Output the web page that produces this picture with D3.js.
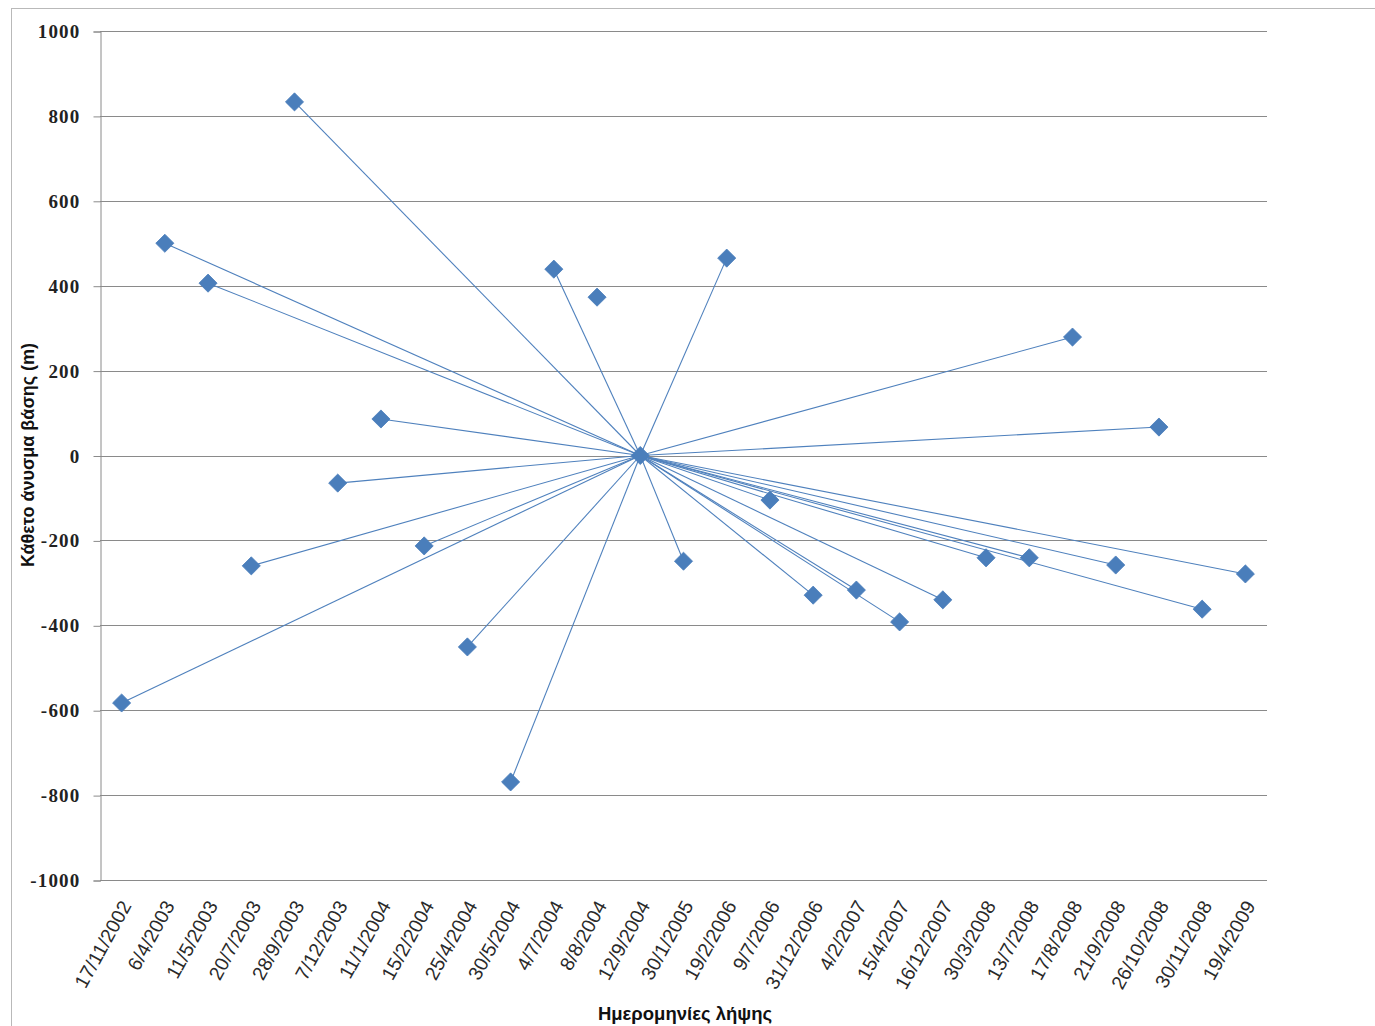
<!DOCTYPE html>
<html>
<head>
<meta charset="utf-8">
<script src="https://cdn.jsdelivr.net/npm/d3@7"></script>
<style>
  html, body { margin: 0; padding: 0; background: #fff; }
  svg { display: block; }
</style>
</head>
<body>
<svg id="chart" width="1375" height="1026"></svg>
<script>
// Acquisition dates (categories) and perpendicular baseline values (m)
const dates = [
  "17/11/2002", "6/4/2003", "11/5/2003", "20/7/2003", "28/9/2003", "7/12/2003",
  "11/1/2004", "15/2/2004", "25/4/2004", "30/5/2004", "4/7/2004", "8/8/2004",
  "12/9/2004", "30/1/2005", "19/2/2006", "9/7/2006", "31/12/2006", "4/2/2007",
  "15/4/2007", "16/12/2007", "30/3/2008", "13/7/2008", "17/8/2008", "21/9/2008",
  "26/10/2008", "30/11/2008", "19/4/2009"
];
const baselines = [
  -583, 500, 406, -260, 833, -65,
  86, -213, -451, -769, 439, 373,
  0, -249, 465, -105, -329, -317,
  -392, -340, -241, -241, 279, -258,
  67, -362, -279
];
// Master acquisition and the slave dates linked to it
const masterDate = "12/9/2004";
const unlinked = ["8/8/2004"];
const yTicks = [1000, 800, 600, 400, 200, 0, -200, -400, -600, -800, -1000];
const yTitle = "Κάθετο άνυσμα βάσης (m)";
const xTitle = "Ημερομηνίες λήψης";

const svg = d3.select("#chart");

// outer chart frame
svg.append("rect")
  .attr("x", 11.5).attr("y", 8.5)
  .attr("width", 1400).attr("height", 1040)
  .attr("fill", "#fff").attr("stroke", "#b9b9b9").attr("stroke-width", 1);

const x = d3.scaleBand().domain(dates).range([100, 1267]).paddingInner(0).paddingOuter(0);
const y = d3.scaleLinear().domain([-1000, 1000]).range([880, 31]);
const cx = d => x(d) + x.bandwidth() / 2;

// horizontal gridlines
svg.append("g").selectAll("line")
  .data(yTicks)
  .join("line")
  .attr("x1", 100).attr("x2", 1267)
  .attr("y1", d => Math.round(y(d)) + 0.5).attr("y2", d => Math.round(y(d)) + 0.5)
  .attr("stroke", "#8a8a8a").attr("stroke-width", 1);

// value axis
const yAxis = d3.axisLeft(y).tickValues(yTicks).tickSize(7).tickPadding(13).tickFormat(d => String(d));
const gy = svg.append("g").attr("transform", "translate(100.5,0.5)").call(yAxis);
gy.select(".domain").attr("stroke", "#8a8a8a");
gy.selectAll(".tick line").attr("stroke", "#8a8a8a");
gy.selectAll(".tick text")
  .attr("fill", "#222")
  .style("font-family", "'Liberation Serif', 'DejaVu Serif', serif")
  .style("font-size", "19px")
  .style("font-weight", "bold")
  .style("letter-spacing", "1.2px");

// category labels, rotated
const gx = svg.append("g");
gx.selectAll("text")
  .data(dates)
  .join("text")
  .attr("transform", d => `translate(${cx(d) + 6},${903}) rotate(-61)`)
  .attr("text-anchor", "end")
  .attr("dominant-baseline", "middle")
  .attr("fill", "#2a2a2a")
  .style("font-family", "'Liberation Sans', Arial, sans-serif")
  .style("font-size", "19.5px")
  .text(d => d);

// axis titles
svg.append("text")
  .attr("transform", `translate(34,455) rotate(-90)`)
  .attr("text-anchor", "middle")
  .attr("fill", "#111")
  .style("font-family", "'Liberation Sans', Arial, sans-serif")
  .style("font-size", "18px")
  .style("font-weight", "bold")
  .text(yTitle);

svg.append("text")
  .attr("x", 685).attr("y", 1020)
  .attr("text-anchor", "middle")
  .attr("fill", "#111")
  .style("font-family", "'Liberation Sans', Arial, sans-serif")
  .style("font-size", "18.5px")
  .style("font-weight", "bold")
  .text(xTitle);

// baseline links from the master to each slave
const masterVal = baselines[dates.indexOf(masterDate)];
const links = dates.map((d, i) => ({ d, v: baselines[i] }))
  .filter(p => p.d !== masterDate && !unlinked.includes(p.d));

svg.append("g").selectAll("line")
  .data(links)
  .join("line")
  .attr("x1", cx(masterDate)).attr("y1", y(masterVal))
  .attr("x2", p => cx(p.d)).attr("y2", p => y(p.v))
  .attr("stroke", "#4f81bd").attr("stroke-width", 1.1);

// diamond markers
const diamond = d3.symbol().type(d3.symbolDiamond2).size(210);
svg.append("g").selectAll("path")
  .data(dates.map((d, i) => ({ d, v: baselines[i] })))
  .join("path")
  .attr("d", diamond)
  .attr("transform", p => `translate(${cx(p.d)},${y(p.v)})`)
  .attr("fill", "#4a7ebb")
  .attr("stroke", "#4a7ebb")
  .attr("stroke-width", 0.8);
</script>
</body>
</html>
